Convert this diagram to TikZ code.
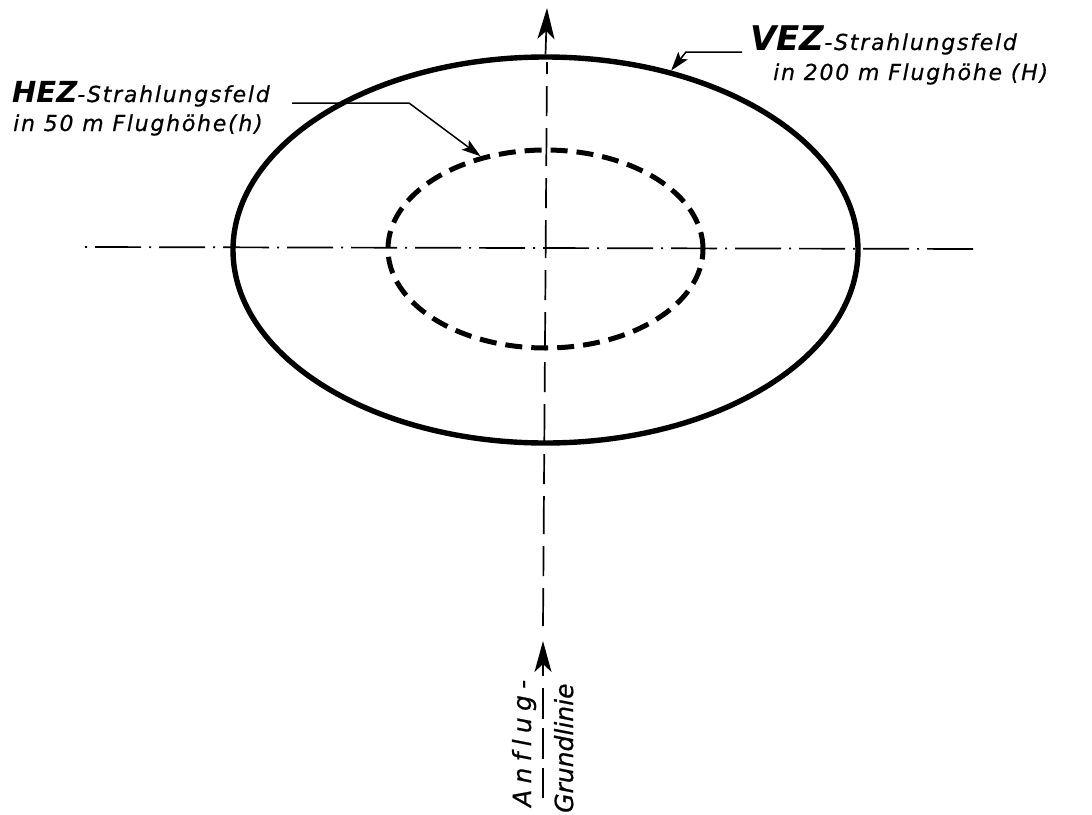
\documentclass[tikz,border=0pt]{standalone}
\usepackage{fontspec}
\setmainfont{DejaVu Sans}[LetterSpace=8,Ligatures=NoCommon,FakeBold=0.6]
\newfontfamily\spacedfont{DejaVu Sans}[LetterSpace=25,Ligatures=NoCommon,FakeBold=0.6]
\newfontfamily\plainfont{DejaVu Sans}[Ligatures=NoCommon,FakeBold=0.6]
\newfontfamily\heavyfont{DejaVu Sans}[Ligatures=NoCommon]
\newcommand\bigletters[2]{{\heavyfont\fontsize{#1}{#1}\selectfont\bfseries\itshape #2}}
\usetikzlibrary{arrows.meta,shapes.geometric}
\begin{document}
\begin{tikzpicture}[x=1pt,y=-1pt,
  field/.style={draw,ellipse,inner sep=0pt,line width=5.4pt},
  fielddash/.style={field,line width=5pt,dash pattern=on 17pt off 9pt},
  axisline/.style={line width=1.7pt},
  leader/.style={line width=1.5pt},
  bigtip/.style={-{Stealth[length=31pt,width=17pt,inset=8pt]}},
  smalltip/.style={-{Stealth[length=19pt,width=12pt,inset=4pt]}},
  lab/.style={inner sep=0pt,anchor=base west,font=\fontsize{22}{26}\selectfont\itshape},
  rotlab/.style={inner sep=0pt,anchor=base west,rotate=90,font=\plainfont\fontsize{25}{30}\selectfont\itshape}
]
\useasboundingbox (0,0) rectangle (1092,814);

% fields
\node[field,minimum width=625pt,minimum height=386pt] (outer) at (545.5,250) {};
\node[fielddash,minimum width=315pt,minimum height=198pt] (inner) at (545.5,249) {};

% horizontal centre line
\coordinate (hl) at (85,247);
\coordinate (hr) at (980,249);
\draw[axisline,dash pattern=on 2pt off 8pt on 46pt off 8pt] (hl) -- (hr);

% vertical approach line
\coordinate (vb) at (543,626);
\coordinate (vt) at (547,8);
\coordinate (vtop0) at (547,62);
\draw[axisline,dash pattern=on 38pt off 12pt on 30pt off 12pt] (vb) -- (vtop0);
\draw[axisline,bigtip] (outer.north) -- (vt);

% bottom arrow and separator between the two words
\coordinate (ab) at (543,676);
\coordinate (at) at (543,641);
\draw[axisline,bigtip] (ab) -- (at);
\coordinate (sb) at (543,798);
\coordinate (st) at (543,688);
\draw[axisline,dash pattern=on 31pt off 9pt] (st) -- (sb);

\node[rotlab,font=\spacedfont\fontsize{25}{30}\selectfont\itshape] (anflug) at (531,807) {Anflug-};
\node[rotlab] (grund) at (573,813) {Grundlinie};

% VEZ label
\node[lab] (vez1) at (750,50) {\bigletters{34}{VEZ}-Strahlungsfeld};
\node[lab] (vez2) at (773,80) {in 200 m Flughöhe (H)};
\coordinate (vezA) at (742,52);
\coordinate (vezB) at (686,52);
\draw[leader,smalltip] (vezA) -- (vezB) -- (outer.55.5);

% HEZ label
\node[lab] (hez1) at (12,102) {\bigletters{29}{HEZ}-Strahlungsfeld};
\node[lab] (hez2) at (13,131) {in 50 m Flughöhe(h)};
\coordinate (hezA) at (292,103);
\coordinate (hezB) at (409,103);
\draw[leader,smalltip] (hezA) -- (hezB) -- (inner.125);
\end{tikzpicture}
\end{document}
